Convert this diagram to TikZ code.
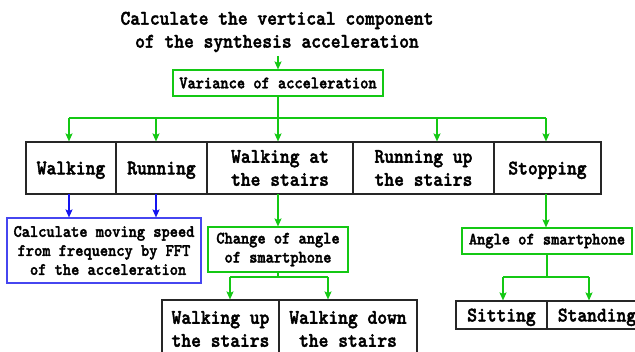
\documentclass[tikz,border=0pt]{standalone}
\usepackage{fontspec}
\usetikzlibrary{arrows.meta}
\newfontfamily\diagfont[Extension=.otf, UprightFont=lmmonolt10-bold, BoldFont=lmmonolt10-bold, FakeStretch=0.9, FakeBold=2]{lmmonolt10-bold}
\definecolor{lgreen}{RGB}{20,200,20}
\definecolor{lblue}{RGB}{20,20,240}
\definecolor{bblue}{RGB}{70,70,240}
\tikzset{
  bigtext/.style={font=\diagfont\fontsize{20.7}{23}\selectfont, align=center},
  smalltext/.style={font=\diagfont\fontsize{17.4}{19}\selectfont, align=center},
  rowbox/.style={draw=black!85, line width=1.1pt, inner sep=0pt, bigtext},
  gbox/.style={draw=lgreen, line width=1.1pt, inner sep=0pt, smalltext},
  bbox/.style={draw=bblue, line width=1.1pt, inner sep=0pt, smalltext},
  gline/.style={draw=lgreen, line width=1.4pt},
  garrow/.style={gline, -{Stealth[length=8pt,width=7pt,inset=1.5pt]}},
  barrow/.style={draw=lblue, line width=1.4pt, -{Stealth[length=8pt,width=7pt,inset=1.5pt]}},
}
\begin{document}
\begin{tikzpicture}[x=1pt,y=-1pt]
\useasboundingbox (0,0) rectangle (635,352);
\clip (0,0) rectangle (635,352);
\fill[white] (0,0) rectangle (635,352);

% title
\node[bigtext] (title) at (277,32) {Calculate the vertical component\\of the synthesis acceleration};
\node[gbox, minimum width=210pt, minimum height=26pt] (var) at (278,83) {Variance of acceleration};

% first row of activities
\node[rowbox, minimum width=90pt, minimum height=52pt, text depth=0pt] (walk) at (71,168) {Walking};
\node[rowbox, minimum width=91pt, minimum height=52pt, text depth=0pt] (run) at (161.5,168) {Running};
\node[rowbox, minimum width=146pt, minimum height=52pt] (wst) at (280,168) {Walking at\\the stairs};
\node[rowbox, minimum width=141pt, minimum height=52pt] (rst) at (423.5,168) {Running up\\the stairs};
\node[rowbox, minimum width=107pt, minimum height=52pt, text depth=0pt] (stop) at (547.5,168) {Stopping};

% second level
\node[bbox, minimum width=194pt, minimum height=65pt] (fft) at (104,250.5) {Calculate moving speed\\from frequency by FFT\\\hphantom{x}of the acceleration};
\node[gbox, minimum width=140pt, minimum height=45pt] (chg) at (278,249.5) {Change of angle\\of smartphone};
\node[gbox, minimum width=170pt, minimum height=26pt] (ang) at (547,241) {Angle of smartphone};

% third level
\node[rowbox, minimum width=117pt, minimum height=58pt] (wup) at (220.5,329) {Walking up\\the stairs};
\node[rowbox, minimum width=138pt, minimum height=58pt] (wdn) at (348,329) {Walking down\\the stairs};
\node[rowbox, minimum width=91pt, minimum height=28pt, text depth=0pt] (sit) at (501.5,315) {Sitting};
\node[rowbox, minimum width=100pt, minimum height=28pt, text depth=0pt] (std) at (597,315) {Standing};

% title to variance
\draw[garrow] (title.south -| var.north) -- (var.north);

% variance to first row
\coordinate (b1) at (69,118);
\coordinate (b2) at (156,118);
\coordinate (b3) at (278,118);
\coordinate (b4) at (437,118);
\coordinate (b5) at (546,118);
\draw[gline] (var.south) -- (b3);
\draw[gline] (b1) -- (b5);
\draw[garrow] (b1) -- (b1 |- walk.north);
\draw[garrow] (b2) -- (b2 |- run.north);
\draw[garrow] (b3) -- (b3 |- wst.north);
\draw[garrow] (b4) -- (b4 |- rst.north);
\draw[garrow] (b5) -- (b5 |- stop.north);

% walking and running to speed estimation
\coordinate (f1) at (69,194);
\coordinate (f2) at (156,194);
\draw[barrow] (f1) -- (f1 |- fft.north);
\draw[barrow] (f2) -- (f2 |- fft.north);

% stairs to change of angle
\coordinate (c0) at (278,194);
\draw[garrow] (c0) -- (c0 |- chg.north);

% stopping to angle
\coordinate (s0) at (546,194);
\draw[garrow] (s0) -- (s0 |- ang.north);

% change of angle to up/down
\coordinate (u0) at (278,277);
\coordinate (u1) at (230,277);
\coordinate (u2) at (328,277);
\draw[gline] (chg.south) -- (u0);
\draw[gline] (u1) -- (u2);
\draw[garrow] (u1) -- (u1 |- wup.north);
\draw[garrow] (u2) -- (u2 |- wdn.north);

% angle to sitting/standing
\coordinate (a0) at (547,277);
\coordinate (a1) at (503,277);
\coordinate (a2) at (589,277);
\draw[gline] (ang.south) -- (a0);
\draw[gline] (a1) -- (a2);
\draw[garrow] (a1) -- (a1 |- sit.north);
\draw[garrow] (a2) -- (a2 |- std.north);
\end{tikzpicture}
\end{document}
